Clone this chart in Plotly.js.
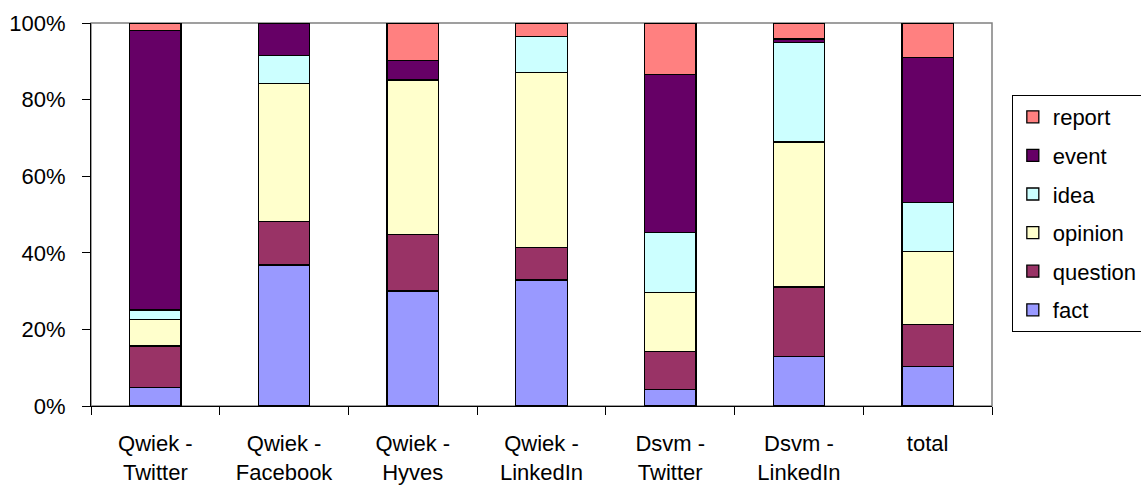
<!DOCTYPE html>
<html>
<head>
<meta charset="utf-8">
<script src="https://cdn.plot.ly/plotly-3.0.1.min.js"></script>
<style>
  html, body { margin: 0; padding: 0; background: #fff; }
  #chart { width: 1141px; height: 485px; }
</style>
</head>
<body>
<div id="chart"></div>
<script>
// Share of message types per channel (percent of messages)
const categories = [
  'Qwiek -<br>Twitter', 'Qwiek -<br>Facebook', 'Qwiek -<br>Hyves',
  'Qwiek -<br>LinkedIn', 'Dsvm -<br>Twitter', 'Dsvm -<br>LinkedIn', 'total'
];
const fact     = [4.9, 36.8, 30.0, 32.9,  4.4, 12.9, 10.3];
const question = [10.8, 11.4, 14.8, 8.4,  9.8, 18.2, 10.9];
const opinion  = [6.8, 36.0, 40.3, 45.8, 15.4, 37.8, 19.2];
const idea     = [2.6,  7.3,  0.0,  9.3, 15.7, 26.1, 12.7];
const eventVal = [72.9, 8.5,  5.1,  0.0, 41.3,  0.8, 37.9];
const report   = [2.0,  0.0,  9.8,  3.6, 13.4,  4.2,  9.0];

const yTickValues = [0, 20, 40, 60, 80, 100];

const series = [
  { name: 'fact',     values: fact,     color: '#9999FF' },
  { name: 'question', values: question, color: '#993366' },
  { name: 'opinion',  values: opinion,  color: '#FFFFCC' },
  { name: 'idea',     values: idea,     color: '#CCFFFF' },
  { name: 'event',    values: eventVal, color: '#660066' },
  { name: 'report',   values: report,   color: '#FF8080' }
];

// stacked from the bottom up; legend lists the top segment first
const traces = series.map((s, i) => ({
  type: 'bar',
  name: s.name,
  x: categories,
  y: s.values,
  legendgroup: s.name,
  legendrank: series.length - i,
  marker: { color: s.color, line: { color: '#000', width: 1.3 } },
  hoverinfo: 'x+y+name'
}));

const font = { family: '"Liberation Sans", Arial, Helvetica, sans-serif', size: 22, color: '#000' };

const layout = {
  width: 1141,
  height: 485,
  margin: { l: 91, r: 149, t: 23, b: 79, autoexpand: false },
  paper_bgcolor: '#fff',
  plot_bgcolor: '#fff',
  font: font,
  barmode: 'stack',
  bargap: 0.6,
  showlegend: true,
  legend: {
    x: 1.022, xanchor: 'left',
    y: 0.812, yanchor: 'top',
    traceorder: 'grouped',
    tracegroupgap: 7,
    itemwidth: 30,
    bordercolor: '#000',
    borderwidth: 1,
    bgcolor: '#fff',
    font: font
  },
  xaxis: {
    type: 'category',
    tickson: 'boundaries',
    ticks: 'outside',
    ticklen: 8,
    tickcolor: '#000',
    showline: true,
    linecolor: '#000',
    linewidth: 1,
    showgrid: false,
    zeroline: false,
    ticklabelstandoff: 18,
    tickfont: font
  },
  yaxis: {
    range: [0, 100],
    tickvals: yTickValues,
    ticktext: yTickValues.map(v => v + '%'),
    ticks: 'outside',
    ticklen: 8,
    tickcolor: '#000',
    showline: true,
    linecolor: '#000',
    linewidth: 1,
    showgrid: false,
    zeroline: false,
    ticklabelstandoff: 12,
    tickfont: font
  },
  shapes: [{
    type: 'rect', xref: 'paper', yref: 'paper',
    x0: 0, x1: 1, y0: 0, y1: 1,
    line: { color: '#808080', width: 1.5 },
    layer: 'below'
  }]
};

Plotly.newPlot('chart', traces, layout, { displayModeBar: false, staticPlot: true });
</script>
</body>
</html>
